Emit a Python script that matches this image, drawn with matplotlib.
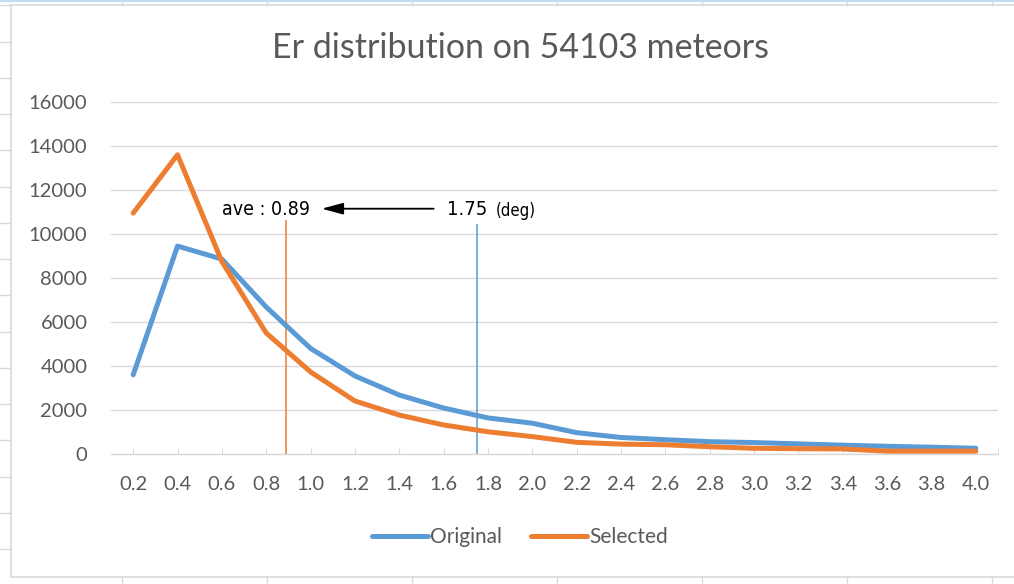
import matplotlib.pyplot as plt
from matplotlib.patches import Rectangle
import numpy as np


# Er bins (deg) and meteor counts per bin
er_bins = [0.2, 0.4, 0.6, 0.8, 1.0, 1.2, 1.4, 1.6, 1.8, 2.0,
           2.2, 2.4, 2.6, 2.8, 3.0, 3.2, 3.4, 3.6, 3.8, 4.0]
original = [3600, 9450, 8860, 6680, 4800, 3550, 2680, 2090, 1640, 1400,
            970, 750, 650, 560, 520, 460, 400, 350, 310, 260]
selected = [10950, 13600, 8750, 5500, 3730, 2410, 1770, 1320, 1010, 790,
            530, 450, 420, 330, 260, 240, 230, 130, 130, 130]
y_ticks = [0, 2000, 4000, 6000, 8000, 10000, 12000, 14000, 16000]

ave_selected = 0.89
ave_original = 1.75

BLUE = '#5B9BD5'
ORANGE = '#ED7D31'
GRID = '#D9D9D9'
TXT = '#595959'

plt.rcParams['font.family'] = ['Lato', 'DejaVu Sans']
narrow = dict(family='DejaVu Sans', stretch='condensed', color='black')

W, H = 1014, 584
fig = plt.figure(figsize=(W / 100, H / 100), dpi=100)

# sheet cells around the chart object (pixel coords)
bg = fig.add_axes([0, 0, 1, 1], zorder=0)
bg.set_xlim(0, W)
bg.set_ylim(H, 0)
bg.axis('off')
for yy in np.arange(549, 0, -36.25):
    bg.plot([0, 11], [yy, yy], color=GRID, lw=1)
for xx in [122, 267, 412, 557, 702, 847, 992]:
    bg.plot([xx, xx], [577, H], color=GRID, lw=1)
    bg.plot([xx, xx], [0, 5], color=GRID, lw=1)
bg.plot([0, W], [0.5, 0.5], color='#C5DDF3', lw=1.5)
bg.add_patch(Rectangle((11, 5), W, 572, facecolor='white', edgecolor=GRID, lw=1.2))

ax = fig.add_axes([111 / W, 1 - 454 / H, 887 / W, 352 / H], zorder=1)
ax.set_facecolor('none')

ax.plot(er_bins, original, color=BLUE, lw=3.6, label='Original',
        solid_joinstyle='round', solid_capstyle='round', zorder=3)
ax.plot(er_bins, selected, color=ORANGE, lw=3.6, label='Selected',
        solid_joinstyle='round', solid_capstyle='round', zorder=3)

# average markers
ax.vlines(ave_selected, 0, 10650, color=ORANGE, lw=1.3, alpha=0.85, zorder=2)
ax.vlines(ave_original, 0, 10450, color=BLUE, lw=1.3, alpha=0.85, zorder=2)

ax.text(0.60, 11100, 'ave : %.2f' % ave_selected, fontsize=14,
        va='center', ha='left', **narrow)
ax.text(1.615, 11100, '%.2f' % ave_original, fontsize=14.5,
        va='center', ha='left', **narrow)
ax.text(1.835, 11050, '(deg)', fontsize=12,
        va='center', ha='left', **narrow)
ax.annotate('', xy=(1.05, 11150), xytext=(1.555, 11150),
            arrowprops=dict(arrowstyle='-|>,head_length=1.3,head_width=0.35',
                            color='black', lw=1.3, shrinkA=0, shrinkB=0))

ax.set_xlim(0.1, 4.1)
ax.set_ylim(0, 16000)
ax.set_xticks(er_bins)
ax.set_xticklabels(['%.1f' % v for v in er_bins])
ax.set_xticks([4.1], minor=True)
ax.set_yticks(y_ticks)
ax.grid(axis='y', color=GRID, lw=1)
ax.set_axisbelow(True)
for s in ['top', 'right', 'left']:
    ax.spines[s].set_visible(False)
ax.spines['bottom'].set_color(GRID)
ax.spines['bottom'].set_linewidth(1)

ax.tick_params(axis='y', length=0, pad=17, labelsize=14.5, labelcolor=TXT)
ax.tick_params(axis='x', which='both', direction='in', length=4, color=GRID,
               pad=16, labelsize=14.5, labelcolor=TXT)

fig.text(520 / W, 1 - 48 / H, 'Er distribution on 54103 meteors',
         ha='center', va='center', fontsize=24.5, color=TXT)

leg = ax.legend(loc='center', bbox_to_anchor=(520 / W, 1 - 537 / H),
                bbox_transform=fig.transFigure, ncol=2, frameon=False,
                fontsize=15, handlelength=2.7, handletextpad=0.1,
                columnspacing=1.4)
for t in leg.get_texts():
    t.set_color(TXT)

fig.savefig('out.png', dpi=100, facecolor='white')
